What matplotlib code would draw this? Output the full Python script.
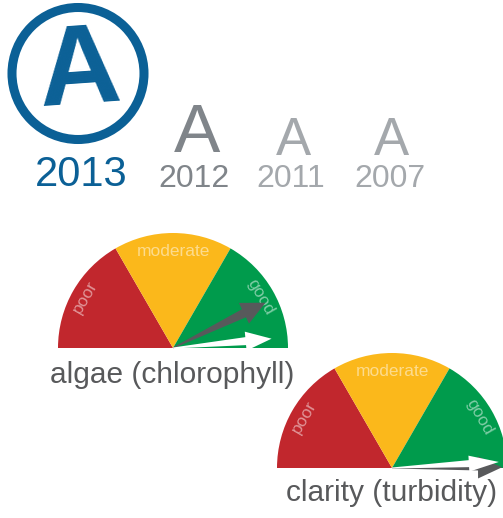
import numpy as np
import matplotlib.pyplot as plt
from matplotlib.patches import Wedge, Circle, Polygon

# report card data
years = ['2013', '2012', '2011', '2007']
grades = ['A', 'A', 'A', 'A']
year_colors = ['#0b6096', '#80858a', '#a4a8ac', '#a4a8ac']

indicators = ['algae (chlorophyll)', 'clarity (turbidity)']
categories = ['poor', 'moderate', 'good']
cat_colors = ['#c1272d', '#fbb81b', '#009b4c']
# gauge scores 0 (poor end) .. 100 (good end)
score_gray = [85.5, 99.8]
score_white = [97.0, 98.2]

font = ['Liberation Sans', 'DejaVu Sans']

fig = plt.figure(figsize=(5.03, 5.18), dpi=100)
ax = fig.add_axes([0, 0, 1, 1])
ax.set_xlim(0, 503)
ax.set_ylim(0, 518)
ax.set_aspect('equal')
ax.axis('off')

# grades row
ax.add_patch(Circle((78, 444.5), 66, fill=False, lw=6.5, color=year_colors[0]))
ax.text(79, 444, grades[0], ha='center', va='center', fontsize=82, fontweight='bold',
        family=font, color=year_colors[0], rotation=4)
ax.text(81.5, 332, years[0], ha='center', va='baseline', fontsize=30, family=font, color=year_colors[0])

a_x = [197.5, 293.5, 391.5]
a_base = [366, 363, 363]
y_x = [194, 290.5, 390]
a_size = [50, 38, 38]
for i in range(1, 4):
    ax.text(a_x[i-1], a_base[i-1], grades[i], ha='center', va='baseline', fontsize=a_size[i-1],
            family=font, color=year_colors[i])
    ax.text(y_x[i-1], 331, years[i], ha='center', va='baseline', fontsize=23,
            family=font, color=year_colors[i])


def arrow(cx, cy, score, length, w0, w1, hw, hl, color, z):
    th = np.deg2rad(180 - score * 1.8)
    pts = np.array([[0, -w0/2], [length-hl, -w1/2], [length-hl, -hw/2], [length, 0],
                    [length-hl, hw/2], [length-hl, w1/2], [0, w0/2]])
    rot = np.array([[np.cos(th), -np.sin(th)], [np.sin(th), np.cos(th)]])
    pts = pts @ rot.T + [cx, cy]
    ax.add_patch(Polygon(pts, closed=True, color=color, lw=0, zorder=z))


centers = [(173, 170), (392, 50)]
R = 115
label_pos = [(172, 135), (391.5, 17)]
for g, (cx, cy) in enumerate(centers):
    for k, cat in enumerate(categories):
        a0 = 180 - 60 * (k + 1)
        ax.add_patch(Wedge((cx, cy), R, a0, a0 + 60, color=cat_colors[k], lw=0, zorder=1))
        mid = np.deg2rad(a0 + 30)
        r = 101 if k != 1 else 97
        ax.text(cx + r * np.cos(mid), cy + r * np.sin(mid), cat, ha='center', va='center',
                rotation=a0 + 30 - 90, fontsize=12.5, family=font, color='white',
                alpha=0.5, zorder=2)
    if g == 0:
        arrow(cx, cy, score_gray[g], 103, 1, 9, 23, 24, '#58595b', 3)
        arrow(cx, cy, score_white[g], 99, 1, 8, 19, 26, 'white', 4)
    else:
        arrow(cx, cy, score_gray[g], 110, 1, 6, 22, 24, '#58595b', 3)
        arrow(cx, cy, score_white[g], 107, 1, 7, 16, 30, 'white', 4)
    ax.text(label_pos[g][0], label_pos[g][1], indicators[g], ha='center', va='baseline',
            fontsize=21.5, family=font, color='#58595b', zorder=5)

fig.savefig('out.png', dpi=100)
